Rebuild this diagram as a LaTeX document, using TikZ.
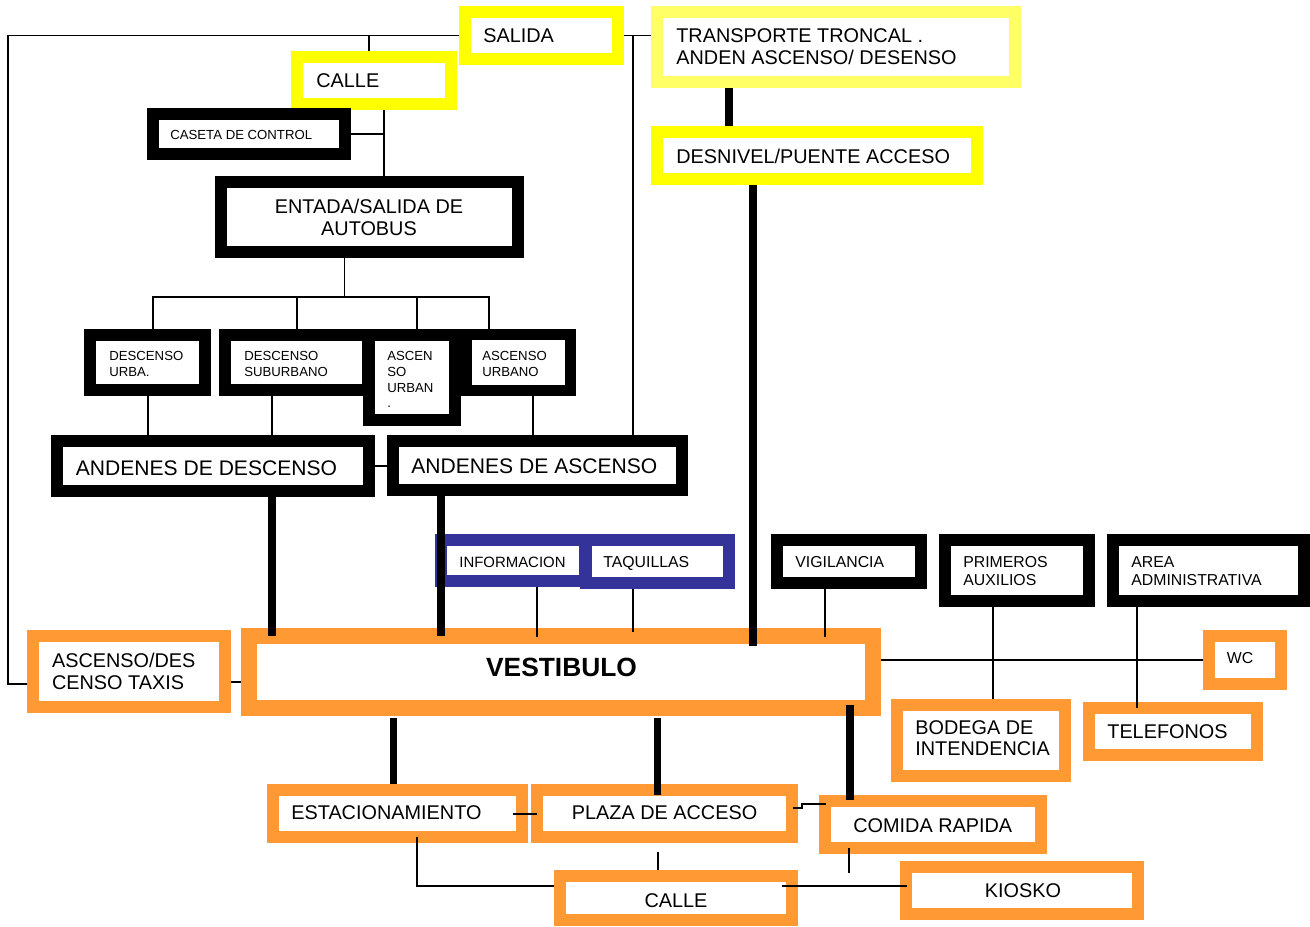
\documentclass[tikz,border=0pt]{standalone}
\usepackage{fontspec}
\setmainfont{Liberation Sans}
\usetikzlibrary{fit,calc}
\definecolor{ylw}{HTML}{FFFF00}
\definecolor{lylw}{HTML}{FFFF66}
\definecolor{org}{HTML}{FF9933}
\definecolor{blu}{HTML}{333399}
\newcommand\mkbox[7]{%
  \pgfmathsetmacro\lwv{#7*0.5669}%
  \node[fit={(#2+#7/2,#3+#7/2)(#4-#7/2,#5-#7/2)}, inner sep=0pt, draw=#6, fill=white, line width=\lwv pt] (#1) {};}
\tikzset{
  lbl/.style={anchor=base west, inner sep=0pt, font=\fontsize{11.3}{13}\selectfont},
  lblc/.style={anchor=base, inner sep=0pt, font=\fontsize{11.3}{13}\selectfont},
  lblB/.style={anchor=base west, inner sep=0pt, font=\fontsize{12}{14}\selectfont},
  lblS/.style={anchor=base west, inner sep=0pt, font=\fontsize{7.5}{9}\selectfont},
  lblM/.style={anchor=base west, inner sep=0pt, font=\fontsize{9}{11}\selectfont},
  conn/.style={line width=1.13pt},
  thk/.style={line width=4.5pt}
}
\begin{document}
\begin{tikzpicture}[x=0.02cm,y=-0.02cm]
\useasboundingbox (0,0) rectangle (1310,926);
% boxes
\mkbox{salida}{459}{6}{624}{65}{ylw}{12}
\mkbox{calleA}{291}{51}{457}{110}{ylw}{12}
\mkbox{caseta}{147}{108}{351}{160}{black}{12}
\mkbox{entada}{215}{176}{524}{258}{black}{12}
\mkbox{transporte}{651}{6}{1021}{88}{lylw}{12}
\mkbox{desnivel}{651}{126}{983}{185}{ylw}{12}
\mkbox{desurb}{84}{329}{211}{396}{black}{12}
\mkbox{dessub}{219}{329}{374}{396}{black}{12}
\mkbox{ascso}{363}{329}{461}{426}{black}{12}
\mkbox{ascurb}{461}{329}{576}{396}{black}{11}
\mkbox{andes}{51}{435}{375}{497}{black}{12}
\mkbox{andas}{387}{435}{688}{496}{black}{12}
\mkbox{info}{435}{534}{591}{587}{blu}{12}
\mkbox{taq}{580}{534}{735}{589}{blu}{12}
\mkbox{vig}{771}{534}{927}{589}{black}{12}
\mkbox{prim}{939}{534}{1095}{607}{black}{12}
\mkbox{area}{1107}{534}{1310}{607}{black}{12}
\mkbox{vest}{241}{628}{881}{716}{org}{16}
\mkbox{taxis}{27}{630}{231}{713}{org}{12}
\mkbox{wc}{1203}{630}{1287}{690}{org}{12}
\mkbox{bodega}{891}{699}{1071}{782}{org}{12}
\mkbox{tel}{1083}{702}{1263}{761}{org}{12}
\mkbox{estac}{267}{784}{528}{843}{org}{12}
\mkbox{plaza}{531}{784}{798}{843}{org}{12}
\mkbox{comida}{819}{795}{1047}{854}{org}{12}
\mkbox{calleB}{554}{870}{798}{926}{org}{12}
\mkbox{kiosko}{900}{861}{1144}{920}{org}{12}
% texts
\node[lbl] (tsalida) at (483,43) {SALIDA};
\node[lbl] (tcalleA) at (316,88) {CALLE};
\node[lblS] (tcaseta) at (170,139) {CASETA DE CONTROL};
\node[lblc] (tent1) at (369,213) {ENTADA/SALIDA DE};
\node[lblc] (tent2) at (369,235) {AUTOBUS};
\node[lbl] (ttr1) at (676,43) {TRANSPORTE TRONCAL .};
\node[lbl] (ttr2) at (676,65) {ANDEN ASCENSO/ DESENSO};
\node[lbl] (tdes) at (676,163) {DESNIVEL/PUENTE ACCESO};
\node[lblS] (tdu1) at (109,360) {DESCENSO};
\node[lblS] (tdu2) at (109,376) {URBA.};
\node[lblS] (tds1) at (244,360) {DESCENSO};
\node[lblS] (tds2) at (244,376) {SUBURBANO};
\node[lblS] (tas1) at (387,360) {ASCEN};
\node[lblS] (tas2) at (387,376) {SO};
\node[lblS] (tas3) at (387,392) {URBAN};
\node[lblS] (tas4) at (387,407) {.};
\node[lblS] (tau1) at (482,360) {ASCENSO};
\node[lblS] (tau2) at (482,376) {URBANO};
\node[lblB] (tandes) at (75.5,475) {ANDENES DE DESCENSO};
\node[lblB] (tandas) at (411,473) {ANDENES DE ASCENSO};
\node[lblM,font=\fontsize{8.5}{10}\selectfont] (tinfo) at (459,567) {INFORMACION};
\node[lblM] (ttaq) at (603,567) {TAQUILLAS};
\node[lblM] (tvig) at (795,567) {VIGILANCIA};
\node[lblM] (tpr1) at (963,567) {PRIMEROS};
\node[lblM] (tpr2) at (963,585) {AUXILIOS};
\node[lblM] (tar1) at (1131,567) {AREA};
\node[lblM] (tar2) at (1131,585) {ADMINISTRATIVA};
\node[lblM] (twc) at (1226.5,663) {WC};
\node[anchor=base, inner sep=0pt, font=\fontsize{15}{18}\selectfont\bfseries] (tvest) at (561.5,676) {VESTIBULO};
\node[lbl] (ttx1) at (51.7,667) {ASCENSO/DES};
\node[lbl] (ttx2) at (51.7,689) {CENSO TAXIS};
\node[lbl] (tbo1) at (915,734) {BODEGA DE};
\node[lbl] (tbo2) at (915,755) {INTENDENCIA};
\node[lbl] (ttel) at (1107,738) {TELEFONOS};
\node[lbl] (test) at (291,819) {ESTACIONAMIENTO};
\node[lbl] (tpla) at (571.5,819) {PLAZA DE ACCESO};
\node[lbl] (tcom) at (853,832) {COMIDA RAPIDA};
\node[lblc] (tcalleB) at (676,907) {CALLE};
\node[lblc] (tkio) at (1023,897) {KIOSKO};
% thin connectors
\draw[conn] (salida.west) -| (8,684) -- (taxis.west |- 8,684);
\draw[conn] (369,0 |- salida.west) -- (369,0 |- calleA.north);
\draw[conn] (384,0 |- calleA.south) -- (384,0 |- entada.north);
\draw[conn] (caseta.east) -- (384,0 |- caseta.east);
\draw[conn] (salida.east) -- (transporte.west |- salida.east);
\draw[conn] (633,0 |- salida.east) -- (633,0 |- andas.north);
\coordinate (bus) at (344.5,297);
\draw[conn] (bus |- entada.south) -- (bus);
\draw[conn] (153,0 |- desurb.north) |- (489,297) -- (489,0 |- ascurb.north);
\draw[conn] (297,297) -- (297,0 |- dessub.north);
\draw[conn] (417,297) -- (417,0 |- ascso.north);
\draw[conn] (148,0 |- desurb.south) -- (148,0 |- andes.north);
\draw[conn] (272,0 |- dessub.south) -- (272,0 |- andes.north);
\draw[conn] (533,0 |- ascurb.south) -- (533,0 |- andas.north);
\draw[conn] (andes.east) -- (andas.west |- andes.east);
\draw[conn] (537,0 |- info.south) -- ($(537,0 |- vest.north)+(0,9)$);
\draw[conn] (633,0 |- taq.south) -- ($(633,0 |- vest.north)+(0,4)$);
\draw[conn] (825,0 |- vig.south) -- ($(825,0 |- vest.north)+(0,9)$);
\draw[conn] (vest.east |- wc.west) -- (wc.west);
\draw[conn] (993,0 |- prim.south) -- (993,0 |- bodega.north);
\draw[conn] (1137,0 |- area.south) -- ($(1137,0 |- tel.north)+(0,6)$);
\draw[conn] (taxis.east |- 0,682) -- (vest.west |- 0,682);
\draw[conn] ($(estac.east |- 0,814)+(-15,0)$) -- ($(plaza.west |- 0,814)+(6,0)$);
\draw[conn] ($(plaza.east |- 0,808)+(-5,0)$) -- ++(9,0) |- ($(comida.west |- 0,804)+(7,0)$);
\draw[conn] (657.5,852) -- (657.5,0 |- calleB.north);
\draw[conn] ($(416.5,0 |- estac.south)+(0,-6)$) |- (calleB.west |- 0,886);
\draw[conn] ($(calleB.east |- 0,886)+(-16,0)$) -- ($(kiosko.west |- 0,886)+(7,0)$);
\draw[conn] ($(849,0 |- comida.south)+(0,-6)$) -- (849,873);
% thick connectors
\draw[thk] (729,0 |- transporte.south) -- (729,0 |- desnivel.north);
\draw[thk] (753,0 |- desnivel.south) -- ($(753,0 |- vest.north)+(0,18)$);
\draw[thk] (272,0 |- andes.south) -- ($(272,0 |- vest.north)+(0,8)$);
\draw[thk] (441,0 |- andas.south) -- ($(441,0 |- vest.north)+(0,8)$);
\draw[thk] ($(393.5,0 |- vest.south)+(0,2)$) -- (393.5,0 |- estac.north);
\draw[thk] ($(657.5,0 |- vest.south)+(0,2)$) -- ($(657.5,0 |- plaza.north)+(0,11)$);
\draw[thk] ($(850,0 |- vest.south)+(0,-11)$) -- ($(850,0 |- comida.north)+(0,5)$);
\end{tikzpicture}
\end{document}
